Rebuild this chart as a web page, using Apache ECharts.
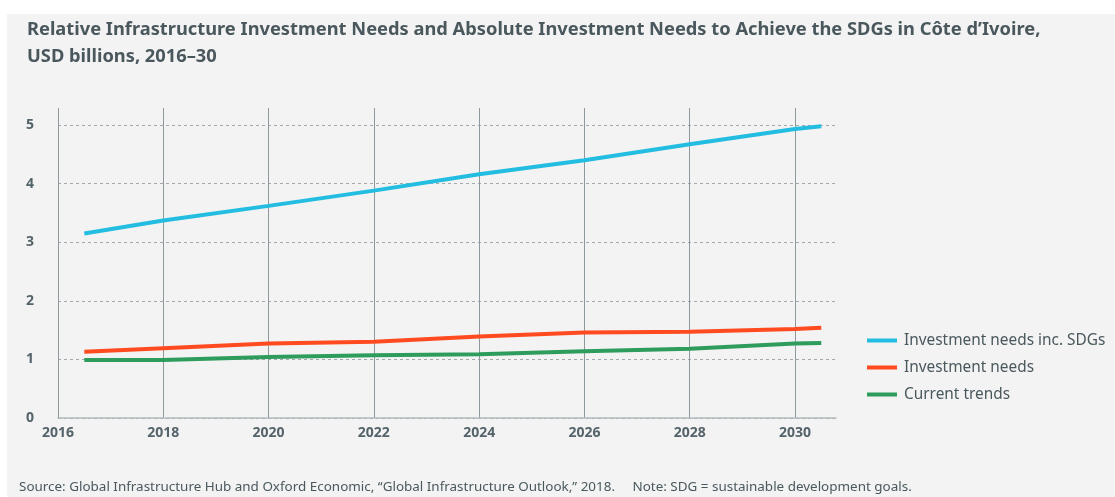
<!DOCTYPE html>
<html>
<head>
<meta charset="utf-8">
<script src="https://cdn.jsdelivr.net/npm/echarts@6/dist/echarts.min.js"></script>
<style>
  html, body { margin: 0; padding: 0; background: #ffffff; }
  #chart { width: 1115px; height: 497px; }
</style>
</head>
<body>
<div id="chart"></div>
<script>
// sampled points along each line (year, USD billions)
var years = [2016.5, 2018, 2020, 2022, 2024, 2026, 2028, 2030, 2030.5];
var needsSdg = [3.15, 3.37, 3.62, 3.88, 4.16, 4.40, 4.67, 4.93, 4.98];
var needs = [1.13, 1.19, 1.27, 1.30, 1.39, 1.46, 1.47, 1.52, 1.54];
var trends = [0.99, 0.99, 1.04, 1.07, 1.09, 1.14, 1.18, 1.27, 1.28];
var seriesNames = ['Investment needs inc. SDGs', 'Investment needs', 'Current trends'];
var xTicks = [2016, 2018, 2020, 2022, 2024, 2026, 2028, 2030];
var yTicks = [0, 1, 2, 3, 4, 5];

var font = '"Noto Sans", "Open Sans", sans-serif';
var textColor = '#4a585e';

function pairs(vals) {
  return years.map(function (y, i) { return [y, vals[i]]; });
}

var chart = echarts.init(document.getElementById('chart'));
var option = {
  backgroundColor: '#ffffff',
  animation: false,
  graphic: [{
    type: 'rect', z: -10, silent: true,
    shape: { x: 7, y: 14, width: 1108, height: 483 },
    style: { fill: '#f2f3f2' }
  }],
  title: [{
    text: 'Relative Infrastructure Investment Needs and Absolute Investment Needs to Achieve the SDGs in Côte d’Ivoire,\nUSD billions, 2016–30',
    left: 22, top: 11,
    textStyle: { fontFamily: font, fontSize: 18.3, fontWeight: 'bold', color: textColor, lineHeight: 27 }
  }, {
    text: 'Source: Global Infrastructure Hub and Oxford Economic, “Global Infrastructure Outlook,” 2018.     Note: SDG = sustainable development goals.',
    left: 14, top: 476,
    textStyle: { fontFamily: font, fontSize: 13.45, fontWeight: 'normal', color: textColor }
  }],
  legend: {
    orient: 'vertical',
    left: 862, top: 328,
    itemWidth: 30, itemHeight: 4, itemGap: 12,
    icon: 'rect',
    data: seriesNames,
    textStyle: { fontFamily: font, fontSize: 15.4, color: textColor, padding: [0, 0, 0, 2] }
  },
  grid: [
    { left: 58, right: 279, top: 125, bottom: 79 },
    { left: 58, right: 320, top: 108, bottom: 79 }
  ],
  xAxis: [{
    gridIndex: 0, type: 'value', min: 2016, max: 2030.78,
    axisLine: { show: true, lineStyle: { color: '#b4babd', width: 1.5 } },
    axisTick: { show: false }, axisLabel: { show: false }, splitLine: { show: false }
  }, {
    gridIndex: 1, type: 'value', min: xTicks[0], max: xTicks[xTicks.length - 1], interval: 2,
    axisLine: { show: false }, axisTick: { show: false },
    axisLabel: { fontFamily: font, fontSize: 14, fontWeight: 'bold', color: '#55636a', margin: 8,
      formatter: function (v) { return String(v); } },
    splitLine: { show: true, lineStyle: { color: '#8f989c', width: 1 } }
  }],
  yAxis: [{
    gridIndex: 0, type: 'value', min: yTicks[0], max: yTicks[yTicks.length - 1], interval: 1,
    axisLine: { show: false }, axisTick: { show: false },
    axisLabel: { fontFamily: font, fontSize: 14, fontWeight: 'bold', color: '#55636a', margin: 24, align: 'right', padding: [0, 0, 7, 0] },
    splitLine: { show: true, lineStyle: { color: '#a2a9ac', type: [3, 3], width: 1 } }
  }, {
    gridIndex: 1, type: 'value', min: 0, max: 1, show: false,
    splitLine: { show: false }
  }],
  series: [
    { name: seriesNames[0], type: 'line', data: pairs(needsSdg), showSymbol: false,
      color: '#22bde0', lineStyle: { width: 4, color: '#22bde0' }, z: 5 },
    { name: seriesNames[1], type: 'line', data: pairs(needs), showSymbol: false,
      color: '#ff4b1f', lineStyle: { width: 4, color: '#ff4b1f' }, z: 5 },
    { name: seriesNames[2], type: 'line', data: pairs(trends), showSymbol: false,
      color: '#2e9c5c', lineStyle: { width: 4, color: '#2e9c5c' }, z: 5 }
  ]
};
chart.setOption(option);
</script>
</body>
</html>
